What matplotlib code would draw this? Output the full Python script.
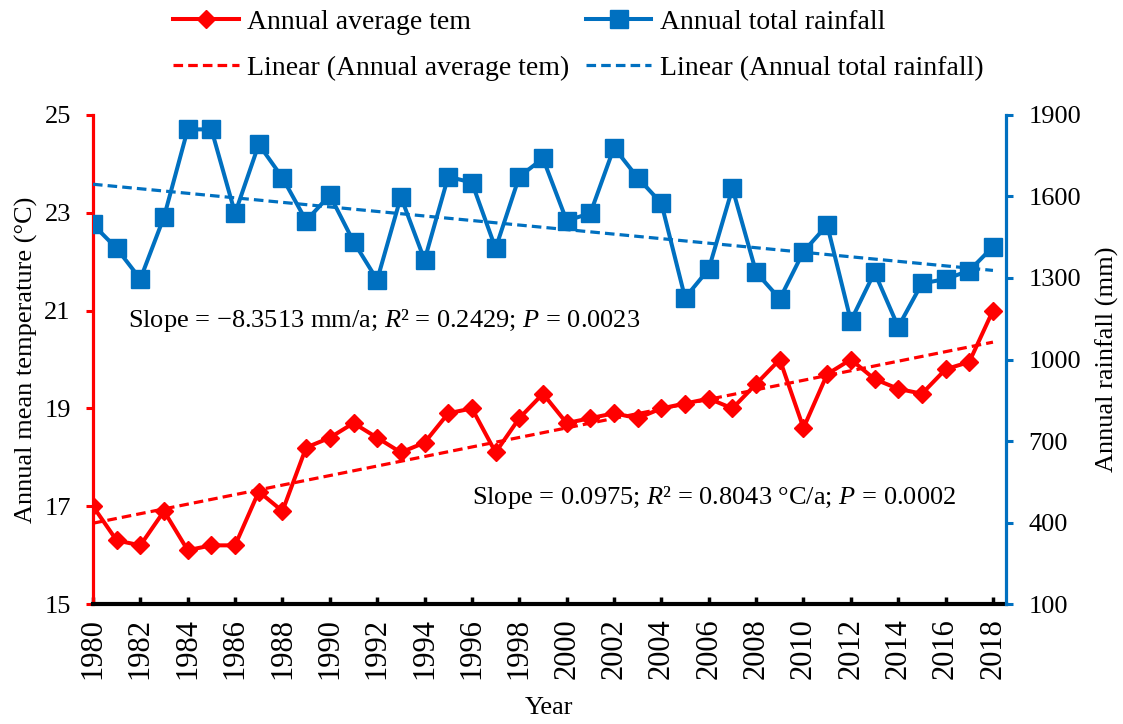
import numpy as np
import matplotlib
matplotlib.use("Agg")
import matplotlib.pyplot as plt

plt.rcParams["font.family"] = ["Liberation Serif", "DejaVu Serif"]
plt.rcParams["mathtext.fontset"] = "custom"
plt.rcParams["mathtext.rm"] = "Liberation Serif"
plt.rcParams["mathtext.it"] = "Liberation Serif:italic"

RED = "#FF0000"
BLUE = "#0070C0"

years = np.arange(1980, 2019)
temperature = [17.0, 16.3, 16.2, 16.9, 16.1, 16.2, 16.2, 17.3, 16.9, 18.2,
               18.4, 18.7, 18.4, 18.1, 18.3, 18.9, 19.0, 18.1, 18.8, 19.3,
               18.7, 18.8, 18.9, 18.8, 19.0, 19.1, 19.2, 19.0, 19.5, 20.0,
               18.6, 19.7, 20.0, 19.6, 19.4, 19.3, 19.8, 19.95, 21.0]
rainfall = [1497, 1409, 1296, 1525, 1847, 1847, 1538, 1792, 1669, 1511,
            1605, 1434, 1293, 1599, 1366, 1673, 1651, 1409, 1673, 1740,
            1511, 1538, 1780, 1669, 1575, 1227, 1333, 1630, 1321, 1223,
            1397, 1495, 1142, 1321, 1120, 1280, 1296, 1327, 1415]
year_ticks = np.arange(1980, 2019, 2)
temp_ticks = [15, 17, 19, 21, 23, 25]
rain_ticks = [100, 400, 700, 1000, 1300, 1600, 1900]

fig = plt.figure(figsize=(11.23, 7.24), dpi=100)
ax = fig.add_axes([0.0828, 0.1657, 0.8130, 0.6755])
ax2 = ax.twinx()

# least-squares trend lines (Excel "Linear" trendline)
temp_fit = np.polyval(np.polyfit(years, temperature, 1), years)
rain_fit = np.polyval(np.polyfit(years, rainfall, 1), years)

h1, = ax.plot(years, temperature, color=RED, lw=2.9, marker="D", ms=9.5,
              label="Annual average tem")
h3, = ax.plot(years, temp_fit, color=RED, lw=2.3, ls=(0, (3, 1.6)),
              label="Linear (Annual average tem)")
h2, = ax2.plot(years, rainfall, color=BLUE, lw=2.9, marker="s", ms=12.5,
               label="Annual total rainfall")
h4, = ax2.plot(years, rain_fit, color=BLUE, lw=2.3, ls=(0, (3, 1.6)),
               label="Linear (Annual total rainfall)")

ax.set_xlim(1980, 2018.55)
ax.set_ylim(15, 25)
ax2.set_ylim(100, 1900)
ax.set_xticks(year_ticks)
ax.set_xticklabels([str(y) for y in year_ticks], rotation=90, fontsize=22)
ax.set_yticks(temp_ticks)
ax.set_yticklabels([str(t) for t in temp_ticks], fontsize=19)
ax2.set_yticks(rain_ticks)
ax2.set_yticklabels([str(r) for r in rain_ticks], fontsize=19)

for a in (ax, ax2):
    a.spines["top"].set_visible(False)
ax.spines["right"].set_visible(False)
ax2.spines["left"].set_visible(False)
ax2.spines["bottom"].set_visible(False)
ax.spines["left"].set_color(RED)
ax.spines["left"].set_linewidth(2.3)
ax.spines["bottom"].set_color("black")
ax.spines["bottom"].set_linewidth(3)
ax2.spines["right"].set_color(BLUE)
ax2.spines["right"].set_linewidth(2.3)
ax.tick_params(axis="y", colors=RED, width=2.2, length=5, direction="out",
               labelcolor="black", pad=11)
ax.tick_params(axis="x", width=2.5, length=5, direction="in", pad=10)
ax2.tick_params(axis="y", colors=BLUE, width=2.2, length=5, direction="out",
                labelcolor="black", pad=11)

ax.set_xlabel("Year", fontsize=19)
ax.xaxis.set_label_coords(0.4995, -0.19)
ax.set_ylabel("Annual mean temperature (\u00b0C)", fontsize=19)
ax.yaxis.set_label_coords(-0.060, 0.5)
ax2.set_ylabel("Annual rainfall (mm)", fontsize=19)
ax2.yaxis.set_label_coords(1.0985, 0.5)

ax.text(1981.48, 20.79, "Slope = \u22128.3513 mm/a; $R$\u00b2 = 0.2429; $P$ = 0.0023",
        fontsize=19, va="center", ha="left")
ax.text(1996.02, 17.17, "Slope = 0.0975; $R$\u00b2 = 0.8043 \u00b0C/a; $P$ = 0.0002",
        fontsize=19, va="center", ha="left")

fig.legend([h1, h3, h2, h4],
           [h.get_label() for h in (h1, h3, h2, h4)],
           loc="upper center", bbox_to_anchor=(0.515, 1.022), ncol=2,
           frameon=False, fontsize=20, handlelength=2.35, handletextpad=0.3,
           columnspacing=0.6, labelspacing=0.75)

fig.savefig("out.png", dpi=100)
